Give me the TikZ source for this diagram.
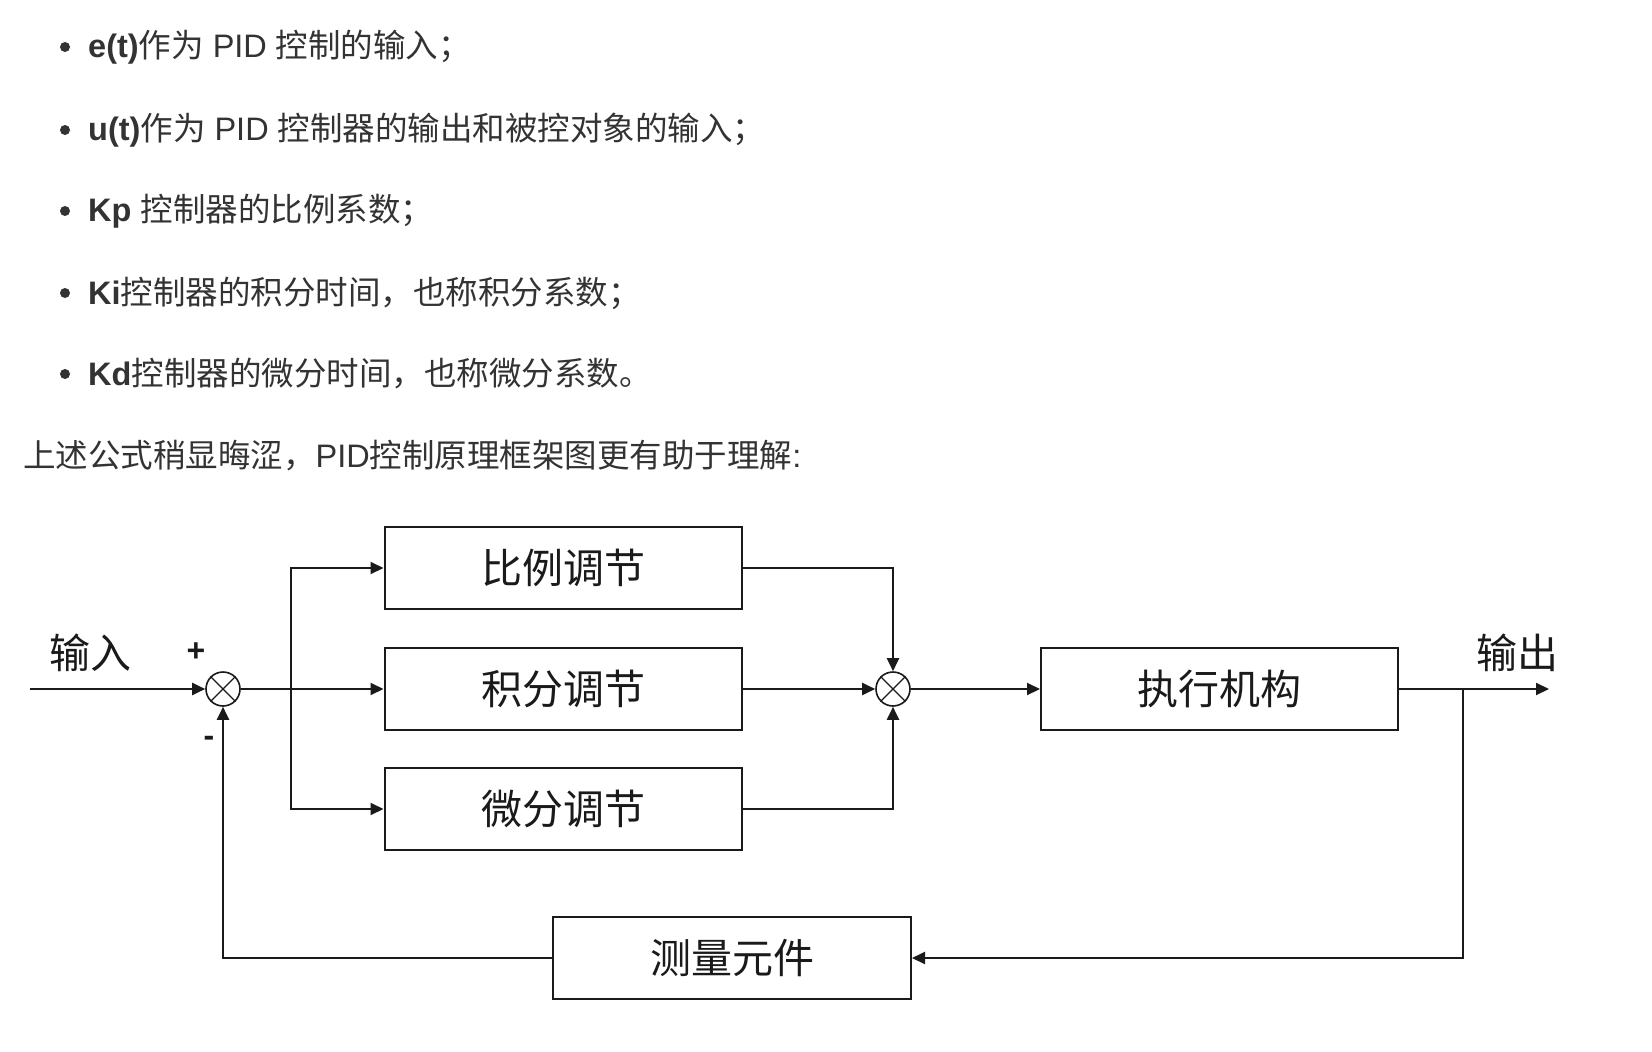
\documentclass[tikz,border=0pt]{standalone}
\usepackage{fontspec}
\setmainfont{Liberation Sans}
\newfontfamily\cjk{Noto Sans CJK SC}
\usetikzlibrary{arrows.meta}
\definecolor{txt}{HTML}{333333}
\definecolor{ln}{HTML}{1A1A1A}
\begin{document}
\begin{tikzpicture}[x=1pt,y=-1pt,
  blk/.style={draw=ln,line width=2pt,minimum width=357pt,minimum height=82pt,inner sep=0pt,font=\cjk\fontsize{41}{41}\selectfont,text=ln},
  sumnode/.style={draw=ln,circle,line width=1.6pt,minimum size=34pt,inner sep=0pt},
  con/.style={draw=ln,line width=2pt,-{Triangle[length=13pt,width=12pt]}},
  wire/.style={draw=ln,line width=2pt},
  bul/.style={anchor=west,inner sep=0pt,text=txt,font=\fontsize{32.5}{32.5}\selectfont},
  lbl/.style={inner sep=0pt,text=ln,font=\cjk\fontsize{41}{41}\selectfont},
  sgn/.style={inner sep=0pt,text=ln,font=\bfseries\fontsize{32}{32}\selectfont}]

\useasboundingbox (0,0) rectangle (1652,1052);
\fill[white] (0,0) rectangle (1652,1052);

% bullet list
\foreach \yy in {47,130,211,293,374} {\fill[txt] (65,\yy) circle (5);}
\node[bul] (t1) at (88,47) {{\bfseries e(t)}{\cjk 作为} PID {\cjk 控制的输入；}};
\node[bul] (t2) at (88,130) {{\bfseries u(t)}{\cjk 作为} PID {\cjk 控制器的输出和被控对象的输入；}};
\node[bul] (t3) at (88,211) {{\bfseries Kp} {\cjk 控制器的比例系数；}};
\node[bul] (t4) at (88,293) {{\bfseries Ki}{\cjk 控制器的积分时间，也称积分系数；}};
\node[bul] (t5) at (88,374) {{\bfseries Kd}{\cjk 控制器的微分时间，也称微分系数。}};
\node[bul] (t6) at (23,456) {{\cjk 上述公式稍显晦涩，}PID{\cjk 控制原理框架图更有助于理解}:};

% blocks
\node[blk] (b1) at (563,568) {比例调节};
\node[blk] (b2) at (563,689) {积分调节};
\node[blk] (b3) at (563,809) {微分调节};
\node[blk] (act) at (1219.5,689) {执行机构};
\node[blk,minimum width=358pt] (meas) at (732,958) {测量元件};

% summing junctions
\node[sumnode] (s1) at (223,689) {};
\node[sumnode] (s2) at (893,689) {};
\foreach \s in {s1,s2} {
  \draw[ln,line width=1.3pt] (\s.north west) -- (\s.south east);
  \draw[ln,line width=1.3pt] (\s.north east) -- (\s.south west);
}

% labels
\node[lbl] (lin) at (90,653) {输入};
\node[lbl] (lout) at (1517,653) {输出};
\node[sgn] (plus) at (196,652) {+};
\node[sgn] (minus) at (209,741) {-};

% coordinates
\coordinate (in) at (30,689);
\coordinate (split) at (291,689);
\coordinate (tap) at (1463,689);
\coordinate (out) at (1549,689);

% connectors
\draw[con] (in) -- (s1.west);
\draw[wire] (s1.east) -- (split);
\draw[con] (split) -- (b2.west);
\draw[con] (split) |- (b1.west);
\draw[con] (split) |- (b3.west);
\draw[con] (b1.east) -| (s2.north);
\draw[con] (b2.east) -- (s2.west);
\draw[con] (b3.east) -| (s2.south);
\draw[con] (s2.east) -- (act.west);
\draw[con] (act.east) -- (out);
\draw[con] (tap) |- (meas.east);
\draw[con] (meas.west) -| (s1.south);
\end{tikzpicture}
\end{document}
